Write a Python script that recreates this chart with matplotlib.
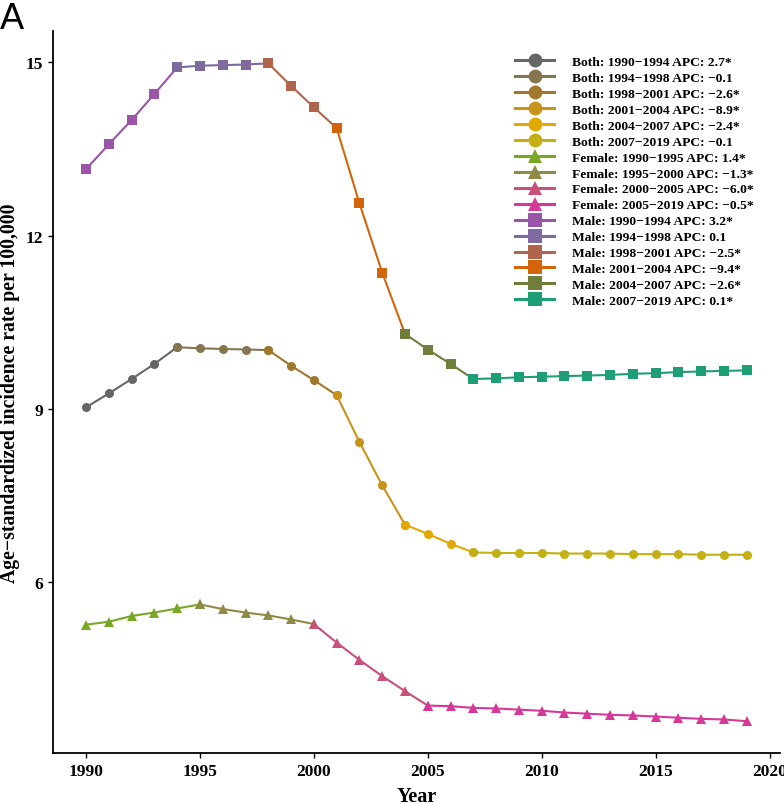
import matplotlib
matplotlib.use('Agg')
import matplotlib.pyplot as plt
from matplotlib.lines import Line2D

years = list(range(1990, 2020))

both = [9.03, 9.27, 9.52, 9.78, 10.07, 10.05, 10.04, 10.03, 10.02, 9.75,
        9.50, 9.24, 8.43, 7.68, 7.00, 6.84, 6.67, 6.52, 6.51, 6.51,
        6.51, 6.50, 6.50, 6.50, 6.49, 6.49, 6.49, 6.48, 6.48, 6.48]
female = [5.27, 5.32, 5.42, 5.48, 5.55, 5.62, 5.54, 5.48, 5.43, 5.36,
          5.28, 4.96, 4.66, 4.38, 4.12, 3.87, 3.86, 3.83, 3.82, 3.80,
          3.78, 3.75, 3.73, 3.71, 3.70, 3.68, 3.66, 3.64, 3.63, 3.60]
male = [13.15, 13.58, 14.00, 14.45, 14.91, 14.94, 14.95, 14.96, 14.98, 14.59,
        14.22, 13.86, 12.56, 11.36, 10.30, 10.03, 9.78, 9.52, 9.53, 9.55,
        9.56, 9.57, 9.58, 9.59, 9.61, 9.62, 9.64, 9.65, 9.66, 9.67]

# joinpoint segments: (start, end, APC label)
both_seg = [(1990, 1994, '2.7*'), (1994, 1998, '\u22120.1'), (1998, 2001, '\u22122.6*'),
            (2001, 2004, '\u22128.9*'), (2004, 2007, '\u22122.4*'), (2007, 2019, '\u22120.1')]
female_seg = [(1990, 1995, '1.4*'), (1995, 2000, '\u22121.3*'),
              (2000, 2005, '\u22126.0*'), (2005, 2019, '\u22120.5*')]
male_seg = [(1990, 1994, '3.2*'), (1994, 1998, '0.1'), (1998, 2001, '\u22122.5*'),
            (2001, 2004, '\u22129.4*'), (2004, 2007, '\u22122.6*'), (2007, 2019, '0.1*')]

both_colors = ['#666666', '#857650', '#A0782B', '#C8931A', '#E2A806', '#C2B015']
female_colors = ['#78A824', '#8F8A45', '#C8507A', '#D6389A']
male_colors = ['#9B55A8', '#7E6A9E', '#B0654B', '#D2650A', '#6F7F3B', '#1E9E77']

serif = 'Liberation Serif'

fig = plt.figure(figsize=(7.84, 8.04), dpi=100)
ax = fig.add_axes([0.0676, 0.0622, 0.927, 0.898])

groups = [
    ('Both', both, both_seg, both_colors, 'o', 6.5),
    ('Female', female, female_seg, female_colors, '^', 7),
    ('Male', male, male_seg, male_colors, 's', 6.5),
]

handles = []
for name, vals, segs, cols, mk, ms in groups:
    for (s, e, apc), c in zip(segs, cols):
        i0 = years.index(s)
        i1 = years.index(e) + 1
        ax.plot(years[i0:i1], vals[i0:i1], color=c, lw=1.5,
                marker=mk, markersize=ms, markeredgewidth=0)
        handles.append(Line2D([], [], color=c, lw=2.2, marker=mk,
                              markersize=10, markeredgewidth=0,
                              label=f'{name}: {s}\u2212{e} APC: {apc}'))

ax.set_xlim(1988.55, 2020.45)
ax.set_ylim(3.05, 15.54)
ax.set_xticks([1990, 1995, 2000, 2005, 2010, 2015, 2020])
ax.set_yticks([6, 9, 12, 15])

for sp in ['top', 'right']:
    ax.spines[sp].set_visible(False)
for sp in ['left', 'bottom']:
    ax.spines[sp].set_linewidth(1.3)

ax.tick_params(length=3.5, width=1, labelsize=12.5)
for lab in ax.get_xticklabels() + ax.get_yticklabels():
    lab.set_fontfamily(serif)
    lab.set_fontweight('bold')

ax.set_xlabel('Year', fontfamily=serif, fontweight='bold', fontsize=14.5, labelpad=5)
ax.set_ylabel('Age\u2212standardized incidence rate per 100,000', fontfamily=serif,
              fontweight='bold', fontsize=14.2, labelpad=4)

leg = ax.legend(handles=handles, loc='upper left', bbox_to_anchor=(0.623, 0.979),
                frameon=False, prop={'family': serif, 'weight': 'bold', 'size': 9.7},
                handlelength=2.9, labelspacing=0.26, handletextpad=1.3,
                borderaxespad=0.3)

fig.text(0.0, 0.997, 'A', fontsize=26, fontfamily='Liberation Sans', va='top', ha='left')

fig.savefig('out.png', dpi=100)
